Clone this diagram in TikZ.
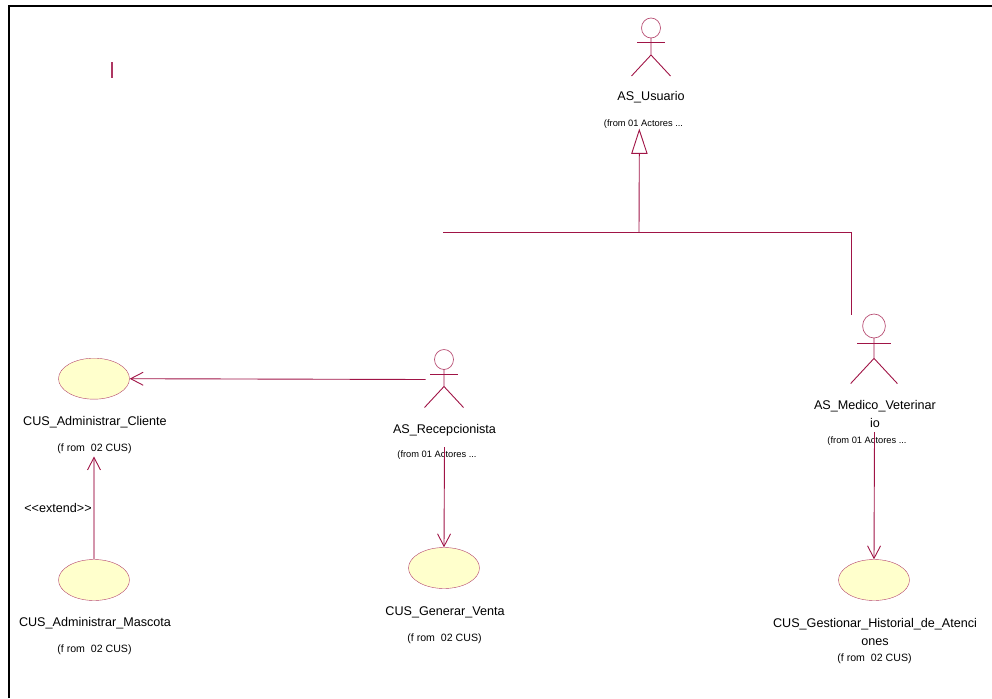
\documentclass[tikz,border=0pt]{standalone}
\usepackage{fontspec}
\setmainfont{Liberation Sans}
\usepackage{tikz}
\usetikzlibrary{arrows.meta,shapes.geometric}
\definecolor{umlred}{RGB}{160,20,70}
\definecolor{umlfill}{RGB}{255,255,204}
\tikzset{
  usecase/.style={ellipse,draw=umlred!80,fill=umlfill,thin,minimum width=71pt,minimum height=41pt,inner sep=0pt},
  namelabel/.style={font=\fontsize{12.6}{18}\selectfont,inner sep=0pt,align=center},
  fromlabel/.style={font=\fontsize{10.6}{12}\selectfont,inner sep=0pt},
  fromsmall/.style={font=\fontsize{9.3}{12}\selectfont,inner sep=0pt},
  assoc/.style={draw=umlred,line width=0.9pt,-{Straight Barb[length=12.5pt,width=13pt,color=umlred,line width=0.9pt]}},
  genline/.style={draw=umlred,line width=0.9pt},
}
% actor drawn around its head centre
\newcommand{\umlactor}[4]{
  \begin{scope}[shift={(#2,#3)},scale=#4]
    \draw [draw=umlred!75,line width=0.7pt] (0,0) ellipse [x radius=9.5,y radius=10];
    \draw [umlred,line width=0.9pt] (0,10) -- (0,27) -- (-19.5,48);
    \draw [umlred,line width=0.9pt] (0,27) -- (19.5,48);
    \draw [umlred,line width=0.9pt] (-14,14.5) -- (14,14.5);
  \end{scope}
  \coordinate (#1) at (#2,#3);
}
\begin{document}
\begin{tikzpicture}[x=1pt,y=-1pt]
  \useasboundingbox (0,0) rectangle (992,698);
  \coordinate (cornertl) at (9,6.5);
  \coordinate (cornertr) at (992,6.5);
  \coordinate (cornerbl) at (9,698);
  \draw [black,line width=2pt] (cornerbl) -- (cornertl) -- (cornertr);
  \node (mark) at (112,70) [fill=umlred!85,minimum width=1.2pt,minimum height=16pt,inner sep=0pt] {};

  \umlactor{usuario}{651}{28}{1}
  \node (usuarioname) at (651,97.5) [namelabel] {AS\_Usuario};
  \node (usuariofrom) at (643.5,124) [fromsmall] {(from 01 Actores ...};

  \umlactor{recepcion}{444}{359.5}{1}
  \node (recepcionname) at (444.5,430) [namelabel] {AS\_Recepcionista};
  \node (recepcionfrom) at (437,455) [fromsmall] {(from 01 Actores ...};

  \umlactor{medico}{874}{326}{1.2}
  \node (mediconame) at (875,414) [namelabel,text width=135pt] {AS\_Medico\_Veterinar\\io};
  \node (medicofrom) at (867,441) [fromsmall] {(from 01 Actores ...};

  \node (cliente) at (94,378.7) [usecase] {};
  \node (clientename) at (95,422) [namelabel] {CUS\_Administrar\_Cliente};
  \node (clientefrom) at (94.5,449) [fromlabel] {(f rom\ \ 02 CUS)};

  \node (mascota) at (94,580) [usecase] {};
  \node (mascotaname) at (95,623) [namelabel] {CUS\_Administrar\_Mascota};
  \node (mascotafrom) at (94.5,650) [fromlabel] {(f rom\ \ 02 CUS)};

  \node (venta) at (444,568) [usecase] {};
  \node (ventaname) at (445,612) [namelabel] {CUS\_Generar\_Venta};
  \node (ventafrom) at (444.5,638.5) [fromlabel] {(f rom\ \ 02 CUS)};

  \node (historial) at (874,580) [usecase] {};
  \node (historialname) at (875,632) [namelabel,text width=225pt] {CUS\_Gestionar\_Historial\_de\_Atenci\\ones};
  \node (historialfrom) at (874.5,658.5) [fromlabel] {(f rom\ \ 02 CUS)};

  \node (extend) at (58,507.5) [namelabel] {<{}<extend>{}>};

  \coordinate (recepcionleft) at (425.5,379.5);
  \coordinate (recepcionfoot) at (444.5,447);
  \coordinate (medicofoot) at (874.5,432);
  \coordinate (clientearrow) at (94,456.5);
  \coordinate (barleft) at (443,232);
  \coordinate (barmid) at (639,232);
  \coordinate (barright) at (851.5,232);
  \coordinate (medicotop) at (851.5,315);
  \coordinate (genapex) at (639.3,130);
  \coordinate (genleft) at (631.8,153.3);
  \coordinate (genright) at (647,153.3);
  \coordinate (genbase) at (639.3,153.3);

  \draw [assoc] (recepcionleft) -- (cliente.east);
  \draw [assoc] (recepcionfoot) -- (venta.north);
  \draw [assoc] (medicofoot) -- (historial.north);
  \draw [assoc,draw=umlred!45!white,line width=1.2pt] (mascota.north) -- (clientearrow);
  \draw [genline] (barleft) -- (barright) -- (medicotop);
  \draw [genline] (barmid) -- (genbase);
  \draw [genline,fill=white] (genapex) -- (genleft) -- (genright) -- cycle;
\end{tikzpicture}
\end{document}
